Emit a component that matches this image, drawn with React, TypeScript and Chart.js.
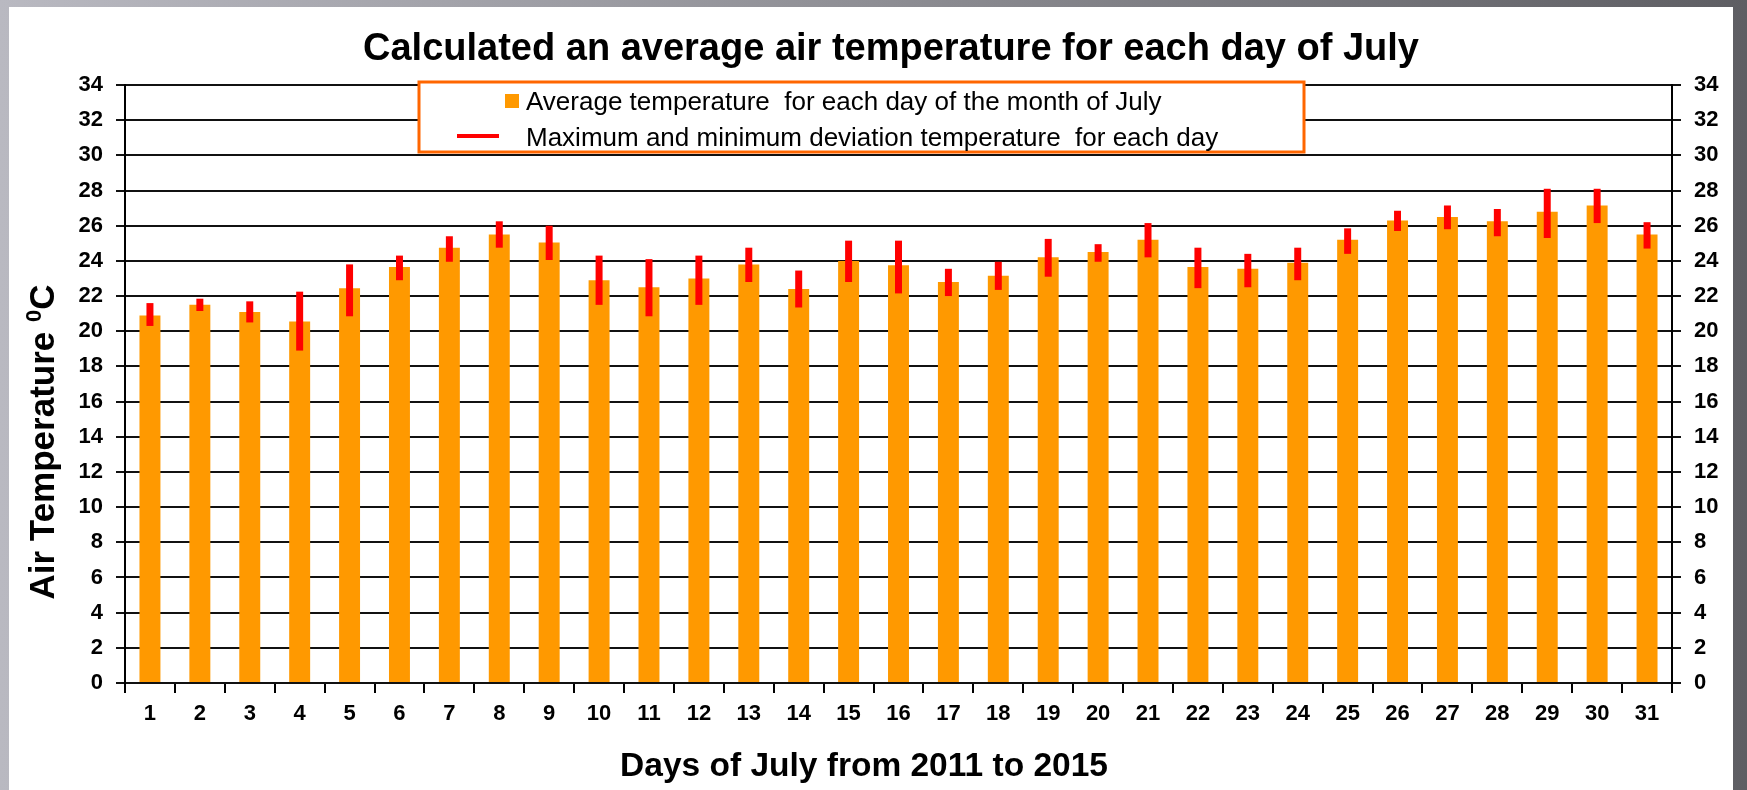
import React, { useEffect, useRef } from "react";
import { Chart, registerables } from "chart.js";

Chart.register(...registerables);

const TITLE = "Calculated an average air temperature for each day of July";
const X_TITLE = "Days of July from 2011 to 2015";
const Y_TITLE_MAIN = "Air Temperature ";
const Y_TITLE_SUP = "0";
const Y_TITLE_END = "C";
const LEGEND_AVG = "Average temperature  for each day of the month of July";
const LEGEND_DEV = "Maximum and minimum deviation temperature  for each day";

const days = [
  "1", "2", "3", "4", "5", "6", "7", "8", "9", "10", "11", "12", "13", "14", "15", "16",
  "17", "18", "19", "20", "21", "22", "23", "24", "25", "26", "27", "28", "29", "30", "31",
];

const avgTemp = [
  20.9, 21.5, 21.1, 20.55, 22.45, 23.65, 24.75, 25.5, 25.05, 22.9, 22.5, 23.0, 23.8, 22.4, 24.0, 23.75,
  22.8, 23.15, 24.2, 24.5, 25.2, 23.65, 23.55, 23.9, 25.2, 26.3, 26.5, 26.25, 26.8, 27.15, 25.5,
];

const maxTemp = [
  21.6, 21.85, 21.7, 22.25, 23.8, 24.3, 25.4, 26.25, 26.0, 24.3, 24.1, 24.3, 24.75, 23.45, 25.15, 25.15,
  23.55, 23.95, 25.25, 24.95, 26.15, 24.75, 24.4, 24.75, 25.85, 26.85, 27.15, 26.95, 28.1, 28.1, 26.2,
];

const minTemp = [
  20.3, 21.15, 20.5, 18.9, 20.85, 22.9, 23.95, 24.75, 24.05, 21.5, 20.85, 21.5, 22.8, 21.35, 22.8, 22.15,
  22.0, 22.35, 23.1, 23.95, 24.2, 22.45, 22.5, 22.9, 24.4, 25.7, 25.8, 25.4, 25.3, 26.15, 24.7,
];

const yTicksMin = 0;
const yTicksMax = 34;
const yTickStep = 2;

const FONT = '"Liberation Sans", Arial, Helvetica, sans-serif';
const ORANGE = "#FF9900";
const RED = "#FF0000";

const decorPlugin = {
  id: "decor",
  afterDraw(chart: any) {
    const ctx = chart.ctx as CanvasRenderingContext2D;
    ctx.save();
    ctx.fillStyle = "#000";

    // Title
    ctx.font = `bold 38px ${FONT}`;
    ctx.textAlign = "center";
    ctx.textBaseline = "alphabetic";
    ctx.fillText(TITLE, 891, 60);

    // X axis title
    ctx.font = `bold 33.5px ${FONT}`;
    ctx.fillText(X_TITLE, 864, 776);

    // Y axis title (rotated, with superscript)
    ctx.save();
    ctx.translate(54, 442);
    ctx.rotate(-Math.PI / 2);
    ctx.textAlign = "left";
    const mainFont = `bold 35px ${FONT}`;
    const supFont = `bold 22px ${FONT}`;
    ctx.font = mainFont;
    const w1 = ctx.measureText(Y_TITLE_MAIN).width;
    const w3 = ctx.measureText(Y_TITLE_END).width;
    ctx.font = supFont;
    const w2 = ctx.measureText(Y_TITLE_SUP).width;
    const total = w1 + w2 + w3;
    let x = -total / 2;
    ctx.font = mainFont;
    ctx.fillText(Y_TITLE_MAIN, x, 0);
    x += w1;
    ctx.font = supFont;
    ctx.fillText(Y_TITLE_SUP, x, -13);
    x += w2;
    ctx.font = mainFont;
    ctx.fillText(Y_TITLE_END, x, 0);
    ctx.restore();

    // Legend box
    const lx = 419, ly = 82, lw = 885, lh = 70;
    ctx.fillStyle = "#fff";
    ctx.fillRect(lx, ly, lw, lh);
    ctx.strokeStyle = "#FF6600";
    ctx.lineWidth = 3;
    ctx.strokeRect(lx, ly, lw, lh);

    ctx.fillStyle = ORANGE;
    ctx.fillRect(505, 94, 14, 14);
    ctx.fillStyle = RED;
    ctx.fillRect(457, 134, 42, 4);

    ctx.fillStyle = "#000";
    ctx.font = `26px ${FONT}`;
    ctx.textAlign = "left";
    ctx.fillText(LEGEND_AVG, 526, 110);
    ctx.fillText(LEGEND_DEV, 526, 146);

    ctx.restore();
  },
};

export default function App() {
  const canvasRef = useRef<HTMLCanvasElement | null>(null);

  useEffect(() => {
    if (!canvasRef.current) return;
    const tickFontY = { family: FONT, size: 22, weight: "bold" as const };
    const tickFontX = { family: FONT, size: 22, weight: "bold" as const };

    const chart = new Chart(canvasRef.current, {
      type: "bar",
      data: {
        labels: days,
        datasets: [
          {
            label: "Maximum and minimum deviation temperature for each day",
            data: minTemp.map((lo, i) => [lo, maxTemp[i]]) as any,
            backgroundColor: RED,
            borderWidth: 0,
            barPercentage: 0.14,
            categoryPercentage: 1,
            grouped: false,
            order: 0,
            yAxisID: "y",
          },
          {
            label: "Average temperature for each day of the month of July",
            data: avgTemp,
            backgroundColor: ORANGE,
            borderWidth: 0,
            barPercentage: 0.42,
            categoryPercentage: 1,
            grouped: false,
            order: 1,
            yAxisID: "y",
          },
        ],
      },
      options: {
        responsive: false,
        animation: false,
        devicePixelRatio: 1,
        layout: { padding: { top: 85, left: 0, right: 0, bottom: 0 } },
        plugins: {
          legend: { display: false },
          title: { display: false },
          tooltip: { enabled: false },
        },
        scales: {
          x: {
            type: "category",
            offset: true,
            grid: {
              display: true,
              drawOnChartArea: false,
              drawTicks: true,
              tickLength: 10,
              color: "#000",
              lineWidth: 2,
              offset: true,
            },
            border: { display: false },
            ticks: {
              font: tickFontX,
              color: "#000",
              padding: 8,
              maxRotation: 0,
              autoSkip: false,
            },
            afterFit(scale: any) {
              scale.height = 107;
            },
          },
          y: {
            position: "left",
            min: yTicksMin,
            max: yTicksMax,
            ticks: { stepSize: yTickStep, font: tickFontY, color: "#000", padding: 13 },
            grid: { color: "#111", lineWidth: 2, drawTicks: true, tickLength: 9 },
            border: { display: true, color: "#000", width: 2 },
            afterFit(scale: any) {
              scale.width = 125;
            },
          },
          y2: {
            position: "right",
            min: yTicksMin,
            max: yTicksMax,
            ticks: { stepSize: yTickStep, font: tickFontY, color: "#000", padding: 13 },
            grid: { drawOnChartArea: false, color: "#111", lineWidth: 2, drawTicks: true, tickLength: 9 },
            border: { display: true, color: "#000", width: 2 },
            afterFit(scale: any) {
              scale.width = 75;
            },
          },
        },
      },
      plugins: [decorPlugin],
    });
    return () => chart.destroy();
  }, []);

  return (
    <div
      style={{
        position: "fixed",
        left: 0,
        top: 0,
        width: 1747,
        height: 790,
        overflow: "hidden",
        background: "linear-gradient(to right, #b9b9c1 0%, #8e8e94 50%, #5e5e63 100%)",
      }}
    >
      <div
        style={{
          position: "absolute",
          left: 9,
          top: 7,
          width: 1724,
          height: 783,
          background: "#fff",
        }}
      />
      <canvas
        ref={canvasRef}
        width={1747}
        height={790}
        style={{ position: "absolute", left: 0, top: 0, width: 1747, height: 790 }}
      />
    </div>
  );
}
